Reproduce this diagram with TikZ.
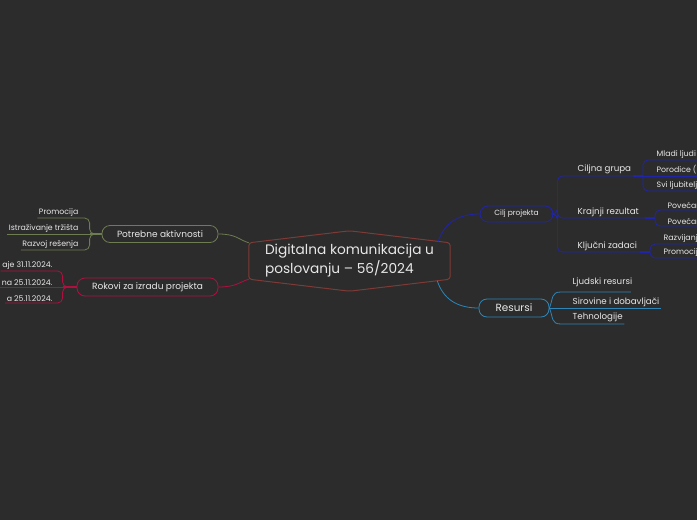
\documentclass[tikz,border=0pt]{standalone}
\usepackage{fontspec}
\setmainfont{Poppins}
\usepackage{xcolor}
\usetikzlibrary{positioning,calc}
\definecolor{mmbg}{RGB}{44,44,44}
\definecolor{mmtext}{RGB}{232,232,232}
\definecolor{mmcentral}{RGB}{125,58,54}
\definecolor{mmolive}{RGB}{110,124,82}
\definecolor{mmcrimson}{RGB}{176,16,64}
\definecolor{mmnavy}{RGB}{32,36,170}
\definecolor{mmsky}{RGB}{46,134,184}

\begin{document}
\begin{tikzpicture}[x=1pt, y=-1pt,
    topic/.style={rectangle, draw, rounded corners=8pt, minimum height=17pt,
                  inner sep=0pt, font=\fontsize{9}{11}\selectfont,
                  text=mmtext, line width=0.8pt},
    branch/.style={inner sep=1.5pt, font=\fontsize{8.7}{10}\selectfont, text=mmtext},
    leaf/.style={inner sep=1.5pt, font=\fontsize{7.8}{9}\selectfont, text=mmtext},
    twig/.style={line width=0.8pt, rounded corners=5pt},
    stub/.style={line width=1.8pt},
  ]
  \clip (0,0) rectangle (697,520);
  \fill[mmbg] (0,0) rectangle (697,520);

  % Centralna tema
  \node[font=\fontsize{13.7}{19}\selectfont, text=mmtext, align=left,
        minimum width=201pt, minimum height=36pt, inner sep=0pt]
    (main) at (349.5,261) {Digitalna komunikacija u\\poslovanju – 56/2024};
  \draw[mmcentral, line width=1pt, rounded corners=3pt]
    (main.north west) -- ($(main.north)+(0,-12)$) -- (main.north east)
    -- (main.south east) -- ($(main.south)+(0,12)$) -- (main.south west) -- cycle;

  % Glavne grane
  \node[topic, draw=mmolive, minimum width=116pt] (pa) at (160,234) {Potrebne aktivnosti};
  \node[topic, draw=mmcrimson, minimum width=141pt, minimum height=18pt] (rok) at (147.5,287) {Rokovi za izradu projekta};
  \node[topic, draw=mmnavy, minimum width=73pt, minimum height=16pt,
        font=\fontsize{7.5}{9}\selectfont] (cilj) at (516.5,214) {Cilj projekta};
  \node[topic, draw=mmsky, minimum width=70pt, minimum height=18pt,
        font=\fontsize{10.4}{12}\selectfont] (res) at (514,308) {Resursi};

  \draw[mmolive, line width=0.8pt] (pa.east) .. controls +(18,0) and +(-10,-3) .. (main.north west);
  \draw[mmcrimson, line width=0.8pt] (rok.east) .. controls +(18,0) and +(-10,3) .. (main.south west);
  \draw[mmnavy, line width=0.8pt] ($(main.north east)+(-12,-1.4)$) .. controls +(6,-18) and +(-22,0) .. (cilj.west);
  \draw[mmsky, line width=0.8pt] ($(main.south east)+(-13,1.5)$) .. controls +(6,18) and +(-22,0) .. (res.west);

  % Potrebne aktivnosti
  \node[leaf, anchor=south east] (pa1) at (80,218) {Promocija};
  \node[leaf, anchor=south east] (pa2) at (80,234) {Istraživanje tržišta};
  \node[leaf, anchor=south east] (pa3) at (80,250) {Razvoj rešenja};
  \coordinate (paj) at ($(pa.west)+(-12,0)$);
  \draw[twig, mmolive] (pa1.south west) -| (paj) -- (pa.west);
  \draw[twig, mmolive] (pa2.south west) -- (pa.west);
  \draw[twig, mmolive] (pa3.south west) -| (paj) -- (pa.west);
  \draw[stub, mmolive] (paj) -- (pa.west);

  % Rokovi
  \node[leaf, anchor=south east] (ro1) at (54,271) {aje 31.11.2024.};
  \node[leaf, anchor=south east] (ro2) at (54,287) {na 25.11.2024.};
  \node[leaf, anchor=south east] (ro3) at (54,303) {a 25.11.2024.};
  \coordinate (roj) at ($(rok.west)+(-14,0)$);
  \draw[twig, mmcrimson] (ro1.south west) -| (roj) -- (rok.west);
  \draw[twig, mmcrimson] (ro2.south west) -- (rok.west);
  \draw[twig, mmcrimson] (ro3.south west) -| (roj) -- (rok.west);
  \draw[stub, mmcrimson] (roj) -- (rok.west);

  % Cilj projekta
  \coordinate (cij) at ($(cilj.east)+(4,0)$);
  \coordinate (cgj) at (643,176);
  \coordinate (krj) at (655,218);
  \coordinate (klj) at (650,252);
  \node[branch, anchor=south west] (cg) at (576,176) {Ciljna grupa};
  \node[branch, anchor=south west] (kr) at (576,218) {Krajnji rezultat};
  \node[branch, anchor=south west] (kl) at (576,252) {Ključni zadaci};
  \draw[twig, mmnavy] (cilj.east) -- (cij) |- (cgj);
  \draw[twig, mmnavy] (cilj.east) -- (cij) |- (krj);
  \draw[twig, mmnavy] (cilj.east) -- (cij) |- (klj);
  \draw[stub, mmnavy] ($(cij)+(0,-6)$) -- ($(cij)+(0,6)$);

  \node[leaf, anchor=south west] (cg1) at (655,160) {Mladi ljudi};
  \node[leaf, anchor=south west] (cg2) at (655,176) {Porodice (s};
  \node[leaf, anchor=south west] (cg3) at (655,191) {Svi ljubitelj};
  \draw[twig, mmnavy] (cgj) |- (cg1.south west) -- ++(60,0);
  \draw[twig, mmnavy] (cgj) -- ++(60,0);
  \draw[twig, mmnavy] (cgj) |- (cg3.south west) -- ++(60,0);
  \draw[stub, mmnavy] ($(cgj)+(-10,0)$) -- (cgj);

  \node[leaf, anchor=south west] (kr1) at (666,210) {Povećan};
  \node[leaf, anchor=south west] (kr2) at (666,226) {Povećan};
  \draw[twig, mmnavy] (krj) |- (kr1.south west) -- ++(60,0);
  \draw[twig, mmnavy] (krj) |- (kr2.south west) -- ++(60,0);
  \draw[stub, mmnavy] ($(krj)+(-10,0)$) -- (krj);

  \node[leaf, anchor=south west] (kl1) at (662,244) {Razvijanj};
  \node[leaf, anchor=south west] (kl2) at (662,258) {Promocije};
  \draw[twig, mmnavy] (klj) |- (kl1.south west) -- ++(60,0);
  \draw[twig, mmnavy] (klj) |- (kl2.south west) -- ++(60,0);
  \draw[stub, mmnavy] ($(klj)+(-10,0)$) -- (klj);

  % Resursi
  \node[branch, anchor=south west] (rs1) at (571,288) {Ljudski resursi};
  \node[branch, anchor=south west] (rs2) at (571,308) {Sirovine i dobavljači};
  \node[branch, anchor=south west] (rs3) at (571,324) {Tehnologije};
  \draw[mmsky, line width=0.8pt] (res.east) .. controls +(4,-10) and +(-10,0) .. ($(rs1.south west)+(-10,4)$) -- ($(rs1.south east)+(-3,4)$);
  \draw[mmsky, line width=0.8pt] (res.east) -- (rs2.south east);
  \draw[mmsky, line width=0.8pt] (res.east) .. controls +(4,10) and +(-10,0) .. ($(rs3.south west)+(-10,0)$) -- (rs3.south east);
\end{tikzpicture}
\end{document}
